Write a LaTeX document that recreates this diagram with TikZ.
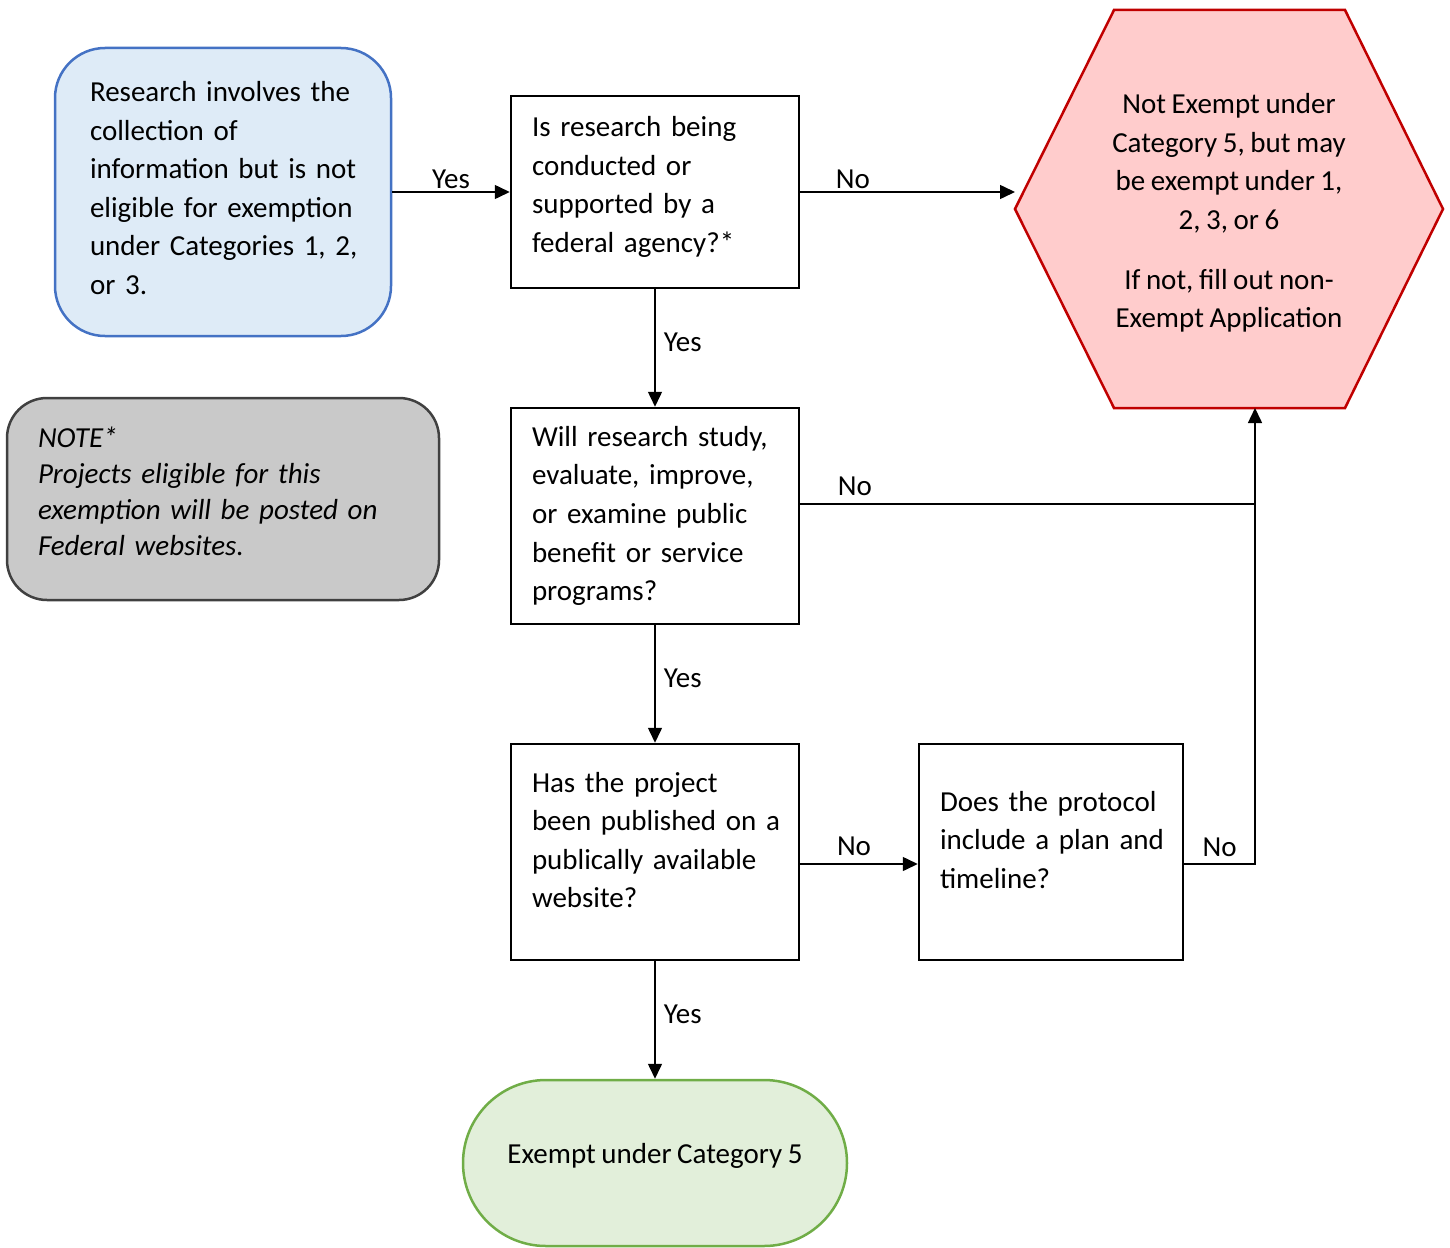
\documentclass[tikz,border=0pt]{standalone}
\usepackage{fontspec}
\setmainfont{Carlito}[WordSpace=0.85]
\usetikzlibrary{arrows.meta}
\definecolor{bluefill}{HTML}{DEEBF7}
\definecolor{bluestroke}{HTML}{4472C4}
\definecolor{redfill}{HTML}{FFCCCC}
\definecolor{redstroke}{HTML}{C00000}
\definecolor{greyfill}{HTML}{C9C9C9}
\definecolor{greystroke}{HTML}{404040}
\definecolor{greenfill}{HTML}{E2EFDA}
\definecolor{greenstroke}{HTML}{70AD47}
\newcommand\lift[1]{\par\vspace{#1}\hrule height0pt width0pt}
\hbadness=10000 \hfuzz=200pt
\begin{document}
\begin{tikzpicture}[x=1pt,y=-1pt, font=\fontsize{29}{38.6}\selectfont,
  box/.style={draw=black, line width=2.5pt, minimum width=288pt, minimum height=216pt, text width=246pt, align=left, inner xsep=21pt},
  conn/.style={line width=1.5pt, -{Triangle[length=15pt,width=14pt]}},
  plainline/.style={line width=1.5pt},
  lbl/.style={inner sep=3pt}]
\useasboundingbox (0,0) rectangle (1450,1247);

% start
\node[draw=bluestroke, fill=bluefill, line width=2.5pt, rounded corners=50pt,
      minimum width=336pt, minimum height=288pt, text width=266pt, inner xsep=35pt, align=left]
  (start) at (223,192) {\mbox{Research involves the}\\\mbox{collection of}\\\mbox{information but is not}\\\mbox{eligible for exemption}\\\mbox{under Categories 1, 2,}\\\mbox{or 3.}\lift{8pt}};

% note
\node[draw=greystroke, fill=greyfill, line width=2.5pt, rounded corners=40pt,
      minimum width=432pt, minimum height=202pt, text width=370pt, inner xsep=31pt, align=left,
      font=\fontsize{29}{36}\selectfont\itshape]
  (note) at (223,499) {\mbox{NOTE*}\\\mbox{Projects eligible for this}\\\mbox{exemption will be posted on}\\\mbox{Federal websites.}\lift{16pt}};

% boxes
\node[box, minimum height=192pt] (b1) at (655,192) {\mbox{Is research being}\\\mbox{conducted or}\\\mbox{supported by a}\\\mbox{federal agency?*}\lift{10pt}};
\node[box] (b2) at (655,516) {\mbox{Will research study,}\\\mbox{evaluate, improve,}\\\mbox{or examine public}\\\mbox{benefit or service}\\\mbox{programs?}};
\node[box] (b3) at (655,852) {\mbox{Has the project}\\\mbox{been published on a}\\\mbox{publically available}\\\mbox{website?}\lift{24pt}};
\node[box, minimum width=264pt, text width=222pt] (b4) at (1051,852) {\mbox{Does the protocol}\\\mbox{include a plan and}\\\mbox{timeline?}\lift{24pt}};

% hexagon
\draw[draw=redstroke, fill=redfill, line width=2.5pt]
  (1114,10) -- (1345,10) -- (1443,209) -- (1345,408) -- (1114,408) -- (1015,209) -- cycle;
\node[align=center] (hex) at (1229,213) {Not Exempt under\\Category 5, but may\\be exempt under 1,\\2, 3, or 6\\[21pt]If not, fill out non-\\Exempt Application};
\coordinate (hexL) at (1015,192);
\coordinate (hexB) at (1255,408);

% terminal
\node[draw=greenstroke, fill=greenfill, line width=2.5pt, rounded corners=83pt,
      minimum width=384pt, minimum height=166pt] (term) at (655,1163) {};
\node (termtext) at (655,1156) {Exempt under Category 5};

\coordinate (j1) at (1255,504);
\coordinate (j2) at (1255,864);

% connectors
\draw[conn] (start.east) -- node[lbl, above] {Yes} (b1.west);
\draw[conn] (b1.east) -- node[lbl, above, pos=0.245] {No} (hexL);
\draw[conn] (b1.south) -- node[lbl, right, xshift=5pt, yshift=6pt] {Yes} (b2.north);
\draw[plainline] ([yshift=12pt]b2.east) -- node[lbl, above, pos=0.12, yshift=5pt] {No} (j1);
\draw[conn] (b2.south) -- node[lbl, right, xshift=5pt, yshift=6pt] {Yes} (b3.north);
\draw[conn] ([yshift=-12pt]b3.east) -- node[lbl, above, yshift=5pt, xshift=-5pt] {No} ([yshift=-12pt]b4.west);
\draw[conn] ([yshift=-12pt]b4.east) -- node[lbl, above, yshift=4pt] {No} (j2) -- (hexB);
\draw[conn] (b3.south) -- node[lbl, right, xshift=5pt, yshift=6pt] {Yes} (term.north);
\end{tikzpicture}
\end{document}
